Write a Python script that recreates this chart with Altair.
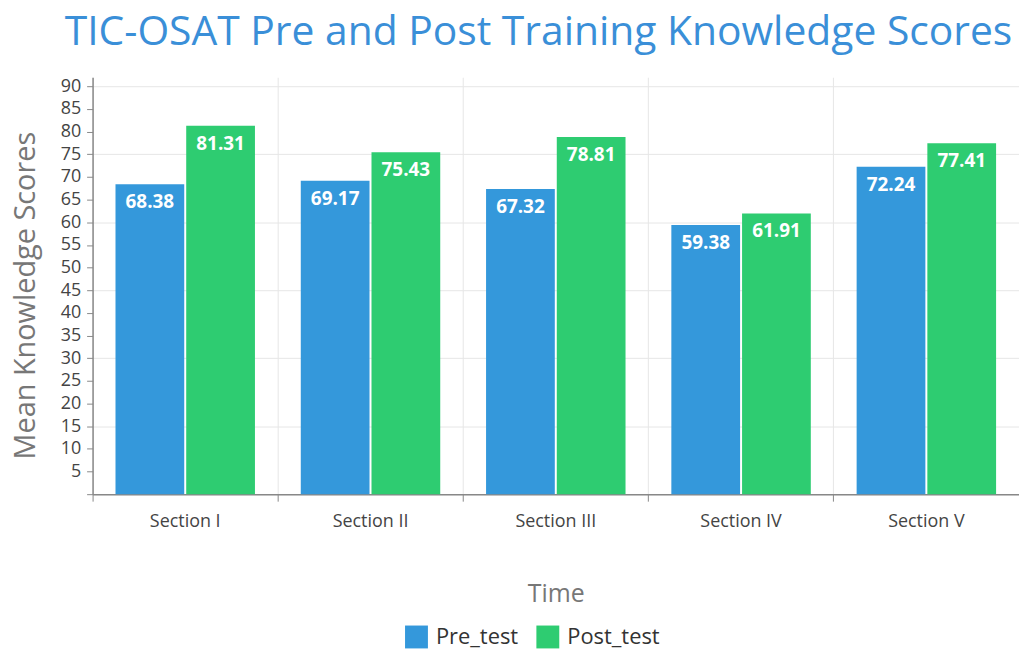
import altair as alt
import pandas as pd

sections = ["Section I", "Section II", "Section III", "Section IV", "Section V"]
pre_test = [68.38, 69.17, 67.32, 59.38, 72.24]
post_test = [81.31, 75.43, 78.81, 61.91, 77.41]
series = ["Pre_test", "Post_test"]
colors = ["#3498db", "#2ecc71"]
y_tick_values = list(range(0, 95, 5))

FONT = "Open Sans"

rows = []
for s, a, b in zip(sections, pre_test, post_test):
    rows.append({"Section": s, "Time": series[0], "Score": a, "Label": f"{a:.2f}"})
    rows.append({"Section": s, "Time": series[1], "Score": b, "Label": f"{b:.2f}"})
df = pd.DataFrame(rows)

x_enc = alt.X(
    "Section:N",
    sort=sections,
    scale=alt.Scale(paddingInner=0, paddingOuter=0),
    axis=alt.Axis(
        title="Time",
        bandPosition=0,
        grid=True,
        gridColor="#e6e6e6",
        ticks=True,
        tickSize=7,
        tickColor="#888",
        domainColor="#888",
        domainWidth=1.5,
        labelAngle=0,
        labelFont=FONT,
        labelFontSize=18,
        labelColor="#444",
        labelPadding=11,
        titleFont=FONT,
        titleFontSize=25,
        titleFontWeight="normal",
        titleColor="#777",
        titlePadding=52,
    ),
)
xoff_enc = alt.XOffset("Time:N", sort=series,
                       scale=alt.Scale(paddingInner=0.028, paddingOuter=0.324))
y_enc = alt.Y(
    "Score:Q",
    scale=alt.Scale(domain=[0, 92], nice=False),
    axis=alt.Axis(
        title="Mean Knowledge Scores",
        values=y_tick_values,
        labelExpr="datum.value == 0 ? '' : datum.label",
        labelOverlap=False,
        grid=True,
        gridColor="#e6e6e6",
        gridOpacity={"condition": {"test": "datum.value % 15 === 0", "value": 1}, "value": 0},
        tickSize=6,
        tickColor="#888",
        domainColor="#888",
        domainWidth=1.5,
        labelFont=FONT,
        labelFontSize=18,
        labelColor="#444",
        labelPadding=6,
        titleFont=FONT,
        titleFontSize=29,
        titleFontWeight="normal",
        titleColor="#777",
        titleX=-67,
        titleY=219,
        titleAlign="center",
        titleBaseline="middle",
        titleAngle=-90,
    ),
)

color_enc = alt.Color(
    "Time:N",
    sort=series,
    scale=alt.Scale(domain=series, range=colors),
    legend=alt.Legend(
        title=None,
        orient="none",
        legendX=314,
        legendY=551,
        direction="horizontal",
        symbolType="square",
        symbolSize=529,
        symbolStrokeWidth=0,
        labelFont=FONT,
        labelFontSize=22,
        labelColor="#333",
        labelOffset=8,
        columnPadding=18,
    ),
)

bars = alt.Chart(df).mark_bar().encode(
    x=x_enc,
    xOffset=xoff_enc,
    y=y_enc,
    color=color_enc,
)

labels = alt.Chart(df).mark_text(
    baseline="top", dy=9, color="white", fontWeight="bold", fontSize=19, font=FONT
).encode(
    x=x_enc,
    xOffset=xoff_enc,
    y=y_enc,
    text="Label:N",
)

chart = alt.layer(bars, labels).properties(
    width=931,
    height=419,
    padding={"left": 85, "top": 68, "right": 0, "bottom": 156},
    autosize=alt.AutoSizeParams(type="none"),
    title=alt.TitleParams(
        "TIC-OSAT Pre and Post Training Knowledge Scores",
        anchor="start",
        frame="group",
        font=FONT,
        fontSize=41,
        fontWeight="normal",
        color="#3a8fd8",
        dx=-28,
        dy=43,
        offset=34,
        baseline="alphabetic",
    ),
).configure_view(stroke=None)

chart.save("out.html", embed_options={"renderer": "svg", "actions": False})
